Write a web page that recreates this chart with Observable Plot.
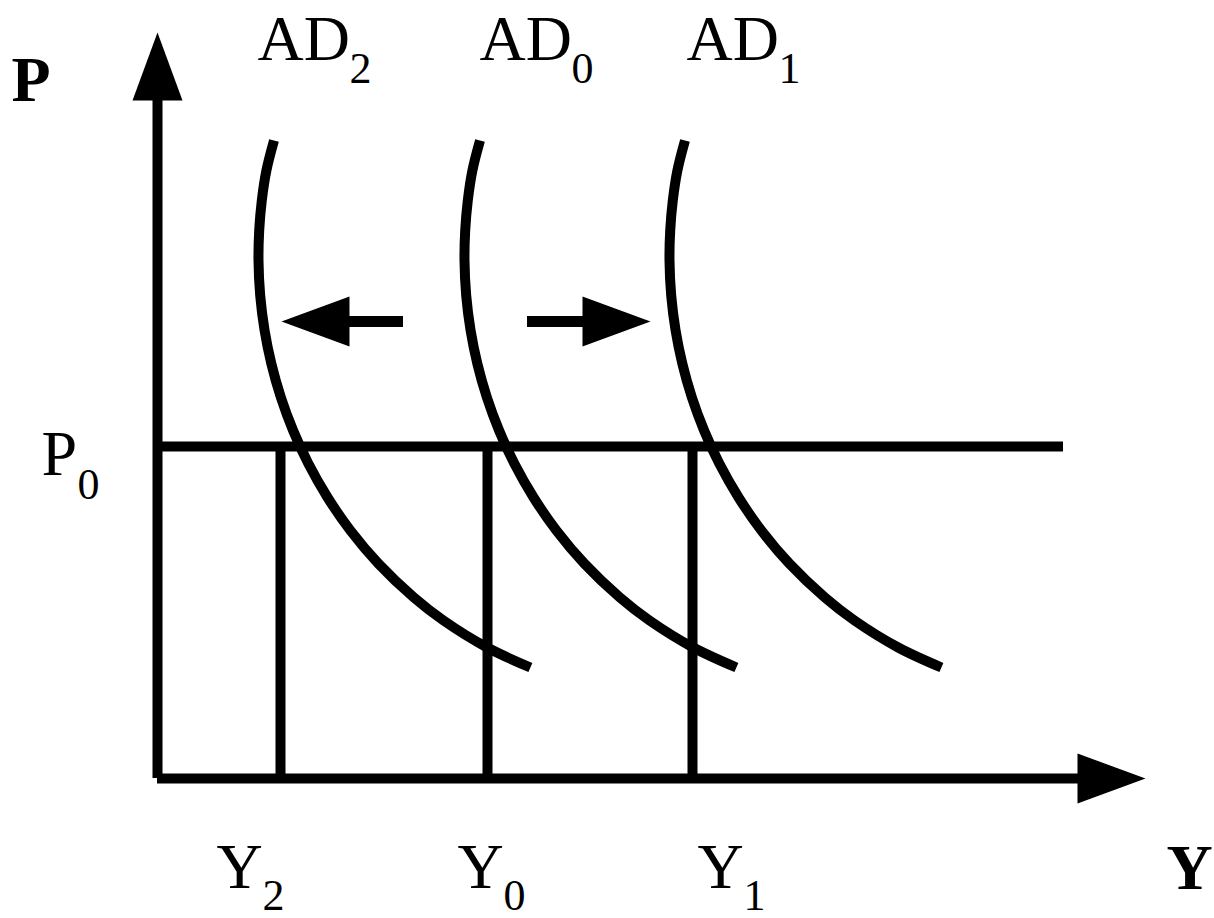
<!DOCTYPE html>
<html>
<head>
<meta charset="utf-8">
<script src="https://cdn.jsdelivr.net/npm/d3@7"></script>
<script src="https://cdn.jsdelivr.net/npm/@observablehq/plot@0.6"></script>
<style>
  html, body { margin: 0; padding: 0; background: #ffffff; }
  #chart svg { display: block; }
</style>
</head>
<body>
<div id="chart"></div>
<script>
// ---- Chart values (output Y on x, price level P on y; origin at the axes' corner) ----
const adNames = ["AD", "AD", "AD"];
const adSubscripts = ["2", "0", "1"];
const outputNames = ["Y", "Y", "Y"];
const outputSubscripts = ["2", "0", "1"];
const outputLevels = [123, 330, 535];          // Y2, Y0, Y1
const priceLevel = 332;                        // P0
const priceLine = [0, 906];                    // extent of the P0 line along Y

// price levels at which each AD curve was read
const curvePrice = [638, 608, 578, 548, 518, 483, 448, 415, 381, 348, 315, 281, 248, 215, 181, 158, 131, 111];
const ad2Output  = [116.5, 108.9, 104.3, 101.7, 101.0, 102.7, 107.1, 113.8, 123.4, 135.6, 150.8, 170.1, 192.9, 220.8, 256.4, 286.0, 329.7, 372.9];
const ad0Output  = [322.5, 314.9, 310.3, 307.7, 307.0, 308.7, 313.1, 319.8, 329.4, 341.6, 356.8, 376.1, 398.9, 426.8, 462.4, 492.0, 535.7, 578.9];
const ad1Output  = [527.5, 519.9, 515.3, 512.7, 512.0, 513.7, 518.1, 524.8, 534.4, 546.6, 561.8, 581.1, 603.9, 631.8, 667.4, 697.0, 740.7, 783.9];

// shift arrows (AD2 <- AD0 -> AD1)
const shiftStart = [246, 370];
const shiftTip = [124, 493];
const shiftPrice = 457;

// axes extents (tips of the arrows)
const axisYTip = 746;
const axisXTip = 988;

// label anchors
const adLabelX = [100, 322, 529];
const adLabelY = 719;
const outputLabelX = [59, 300, 540];
const outputLabelY = -109;
const p0LabelX = -116;
const axisLabels = ["P", "Y"];
const axisLabelX = [-146, 1009];
const axisLabelY = [678, -110];

// ---- Build tables ----
const curves = [
  {name: "AD2", out: ad2Output},
  {name: "AD0", out: ad0Output},
  {name: "AD1", out: ad1Output}
].flatMap(c => c.out.map((x, i) => ({curve: c.name, x, y: curvePrice[i]})));

const headLen = 68, headHalf = 25;
function head(id, tx, ty, dx, dy) {
  const bx = tx - dx * headLen, by = ty - dy * headLen;
  return [
    {id, x: bx - dy * headHalf, y: by + dx * headHalf},
    {id, x: tx, y: ty},
    {id, x: bx + dy * headHalf, y: by - dx * headHalf}
  ];
}
const heads = [
  ...head("axisP", 0, axisYTip, 0, 1),
  ...head("axisY", axisXTip, 0, 1, 0),
  ...shiftTip.flatMap((t, i) => head("shift" + i, t, shiftPrice, Math.sign(t - shiftStart[i]), 0))
];
const shafts = shiftTip.map((t, i) => ({
  x1: shiftStart[i],
  x2: t - Math.sign(t - shiftStart[i]) * (headLen - 1)
}));

const adLabels = adNames.map((t, i) => ({t, s: adSubscripts[i], x: adLabelX[i]}));
const outLabels = outputNames.map((t, i) => ({t, s: outputSubscripts[i], x: outputLabelX[i]}));

const font = "'Liberation Serif', 'Times New Roman', serif";

const chart = Plot.plot({
  width: 1214,
  height: 918,
  margin: 0,
  x: {domain: [-157, 1057], axis: null},
  y: {domain: [-140, 778], axis: null},
  style: {background: "#ffffff", color: "#000000", fontFamily: font},
  marks: [
    // axes
    Plot.ruleX([0], {y1: () => 0, y2: () => axisYTip - headLen + 1, stroke: "black", strokeWidth: 10}),
    Plot.ruleY([0], {x1: () => 0, x2: () => axisXTip - headLen + 1, stroke: "black", strokeWidth: 10}),
    // P0 level
    Plot.ruleY([priceLevel], {x1: () => priceLine[0], x2: () => priceLine[1], stroke: "black", strokeWidth: 10}),
    // output drop lines
    Plot.ruleX(outputLevels, {y1: () => 0, y2: () => priceLevel, stroke: "black", strokeWidth: 10}),
    // AD curves
    Plot.line(curves, {x: "x", y: "y", z: "curve", stroke: "black", strokeWidth: 10, curve: "catmull-rom", strokeLinecap: "butt", strokeLinejoin: "round"}),
    // shift arrow shafts
    Plot.ruleY(shafts, {y: () => shiftPrice, x1: "x1", x2: "x2", stroke: "black", strokeWidth: 11}),
    // arrowheads
    Plot.line(heads, {x: "x", y: "y", z: "id", fill: "black", stroke: "none", curve: "linear-closed"}),
    // AD labels
    Plot.text(adLabels, {x: "x", y: () => adLabelY, text: "t", textAnchor: "start", lineAnchor: "bottom", fontSize: 64, fontFamily: font, fill: "black"}),
    Plot.text(adLabels, {x: "x", y: () => adLabelY, text: "s", textAnchor: "start", lineAnchor: "bottom", dx: 92, dy: 23, fontSize: 44, fontFamily: font, fill: "black"}),
    // output labels
    Plot.text(outLabels, {x: "x", y: () => outputLabelY, text: "t", textAnchor: "start", lineAnchor: "bottom", fontSize: 64, fontFamily: font, fill: "black"}),
    Plot.text(outLabels, {x: "x", y: () => outputLabelY, text: "s", textAnchor: "start", lineAnchor: "bottom", dx: 46, dy: 22, fontSize: 44, fontFamily: font, fill: "black"}),
    // P0 label
    Plot.text(["P"], {x: () => p0LabelX, y: () => priceLevel - 28, text: d => d, textAnchor: "start", lineAnchor: "bottom", fontSize: 64, fontFamily: font, fill: "black"}),
    Plot.text(["0"], {x: () => p0LabelX, y: () => priceLevel - 28, text: d => d, textAnchor: "start", lineAnchor: "bottom", dx: 36, dy: 24, fontSize: 44, fontFamily: font, fill: "black"}),
    // axis titles
    Plot.text(axisLabels, {x: (d, i) => axisLabelX[i], y: (d, i) => axisLabelY[i], text: d => d, textAnchor: "start", lineAnchor: "bottom", fontSize: 64, fontWeight: "bold", fontFamily: font, fill: "black"})
  ]
});
document.getElementById("chart").appendChild(chart);
</script>
</body>
</html>
